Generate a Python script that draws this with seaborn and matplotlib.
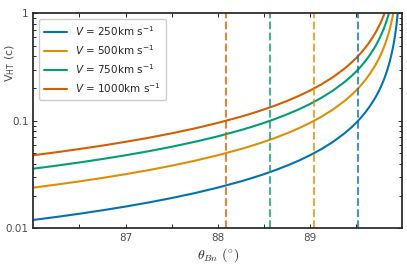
import numpy as np
import pandas as pd
import matplotlib
matplotlib.use('Agg')
import matplotlib.pyplot as plt
import seaborn as sns
from matplotlib.ticker import FixedFormatter, FixedLocator

# ─────────────────────────────────────────
# Data: V_HT (in units of c) vs theta_Bn
# ─────────────────────────────────────────
theta = [86.0, 86.25, 86.5, 86.75, 87.0, 87.25, 87.5, 87.75, 88.0, 88.25,
         88.375, 88.5, 88.625, 88.75, 88.875, 89.0, 89.125, 89.25, 89.375,
         89.45, 89.5, 89.55, 89.6, 89.65, 89.7, 89.725, 89.75, 89.775,
         89.8, 89.82, 89.84, 89.86, 89.88, 89.9, 89.91, 89.92, 89.93,
         89.94, 89.95, 89.955]

vht_250 = [0.01196, 0.01275, 0.01366, 0.01471, 0.01593, 0.01738, 0.01912,
           0.02124, 0.02390, 0.02731, 0.02941, 0.03186, 0.03475, 0.03823,
           0.04247, 0.04778, 0.05461, 0.06371, 0.07645, 0.08687, 0.09556,
           0.1062, 0.1195, 0.1365, 0.1593, 0.1737, 0.1911, 0.2124, 0.2389,
           0.2654, 0.2986, 0.3413, 0.3982, 0.4778, 0.5309, 0.5972, 0.6826,
           0.7963, 0.9556, 1.062]
vht_500 = [0.02391, 0.02550, 0.02732, 0.02942, 0.03187, 0.03476, 0.03824,
           0.04248, 0.04779, 0.05461, 0.05881, 0.06371, 0.06950, 0.07645,
           0.08495, 0.09557, 0.1092, 0.1274, 0.1529, 0.1737, 0.1911, 0.2124,
           0.2389, 0.2730, 0.3185, 0.3475, 0.3822, 0.4247, 0.4778, 0.5309,
           0.5972, 0.6826, 0.7963, 0.9556, 1.062, 1.194, 1.365, 1.593,
           1.911, 2.124]
vht_750 = [0.03587, 0.03825, 0.04098, 0.04413, 0.04780, 0.05214, 0.05735,
           0.06372, 0.07169, 0.08192, 0.08822, 0.09557, 0.1043, 0.1147,
           0.1274, 0.1433, 0.1638, 0.1911, 0.2294, 0.2606, 0.2867, 0.3185,
           0.3584, 0.4095, 0.4778, 0.5212, 0.5734, 0.6371, 0.7167, 0.7963,
           0.8959, 1.024, 1.194, 1.433, 1.593, 1.792, 2.048, 2.389, 2.867,
           3.185]
vht_1000 = [0.04782, 0.05100, 0.05464, 0.05884, 0.06374, 0.06952, 0.07647,
            0.08496, 0.09558, 0.1092, 0.1176, 0.1274, 0.1390, 0.1529,
            0.1699, 0.1911, 0.2184, 0.2548, 0.3058, 0.3475, 0.3822, 0.4247,
            0.4778, 0.5460, 0.6371, 0.6950, 0.7645, 0.8494, 0.9556, 1.062,
            1.194, 1.365, 1.593, 1.911, 2.124, 2.389, 2.730, 3.185, 3.822,
            4.247]

speeds = ['250', '500', '750', '1000']
# angle where V_HT reaches 0.1c for each speed
theta_01c = [89.52, 89.045, 88.567, 88.09]

series = [vht_250, vht_500, vht_750, vht_1000]
labels = [r'$V$ = ' + s + r'km s$^{-1}$' for s in speeds]

df = pd.concat([pd.DataFrame({'theta': theta, 'vht': v, 'label': lab})
                for v, lab in zip(series, labels)], ignore_index=True)

# ─────────────────────────────────────────
# Plot
# ─────────────────────────────────────────
sns.set_theme(style='ticks', rc={
    'xtick.direction': 'in', 'ytick.direction': 'in',
    'xtick.top': True, 'ytick.right': True,
})
plt.rcParams['font.family'] = ['DejaVu Sans']
palette = sns.color_palette('colorblind', 4)

fig, ax = plt.subplots(figsize=(4.07, 2.67), dpi=100)
sns.lineplot(data=df, x='theta', y='vht', hue='label', palette=palette,
             linewidth=1.5, ax=ax)

for th, col in zip(theta_01c, palette):
    ax.axvline(th, color=col, ls='--', lw=1.5, alpha=0.75)

ax.set_yscale('log')
ax.set_xlim(86, 90)
ax.set_ylim(0.01, 1)
ax.set_yticks([0.01, 0.1, 1])
ax.set_yticklabels(['0.01', '0.1', '1'])
xt = [86.5, 87, 87.5, 88, 88.5, 89, 89.5]
ax.xaxis.set_major_locator(FixedLocator(xt))
ax.xaxis.set_major_formatter(FixedFormatter(['', '87', '', '88', '', '89', '']))
ax.tick_params(axis='both', which='both', labelsize=7.5, length=3, width=0.7,
               labelcolor='0.3')
ax.tick_params(axis='y', which='minor', length=2)

ax.set_xlabel(r'$\theta_{Bn}\ (^{\circ})$', fontsize=10, math_fontfamily='cm',
              labelpad=2, color='0.15')
ax.set_ylabel(r'V$_{\rm HT}$ (c)', fontsize=8, color='0.3')
ax.yaxis.set_label_coords(-0.045, 0.77)

ax.legend(title=None, fontsize=7.5, loc='upper left', handlelength=2.2,
          framealpha=1, borderpad=0.5, labelspacing=0.5)

fig.subplots_adjust(left=0.082, right=0.988, top=0.95, bottom=0.145)
fig.savefig('out.png', dpi=100)
